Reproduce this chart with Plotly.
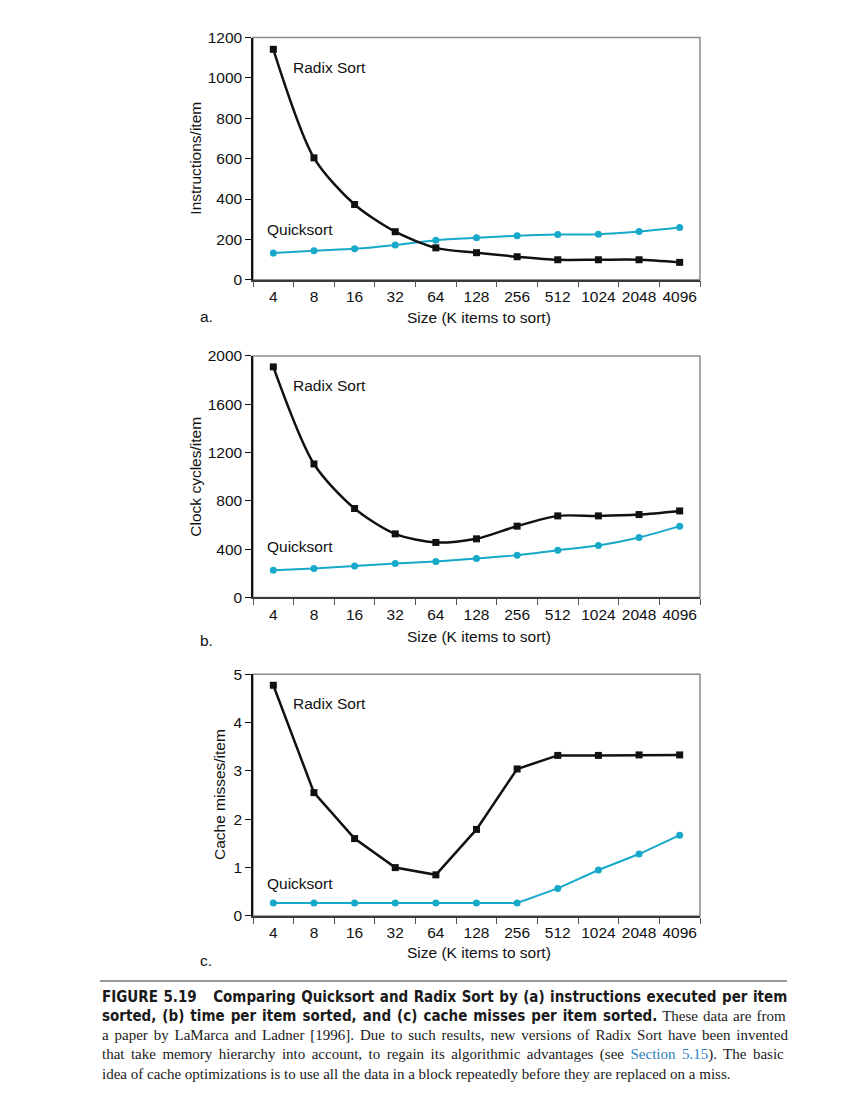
import plotly.graph_objects as go

# ---------------- data ----------------
sizes = ["4", "8", "16", "32", "64", "128", "256", "512", "1024", "2048", "4096"]

radix_instr = [1142, 604, 373, 238, 158, 134, 114, 99, 99, 99, 86]
quick_instr = [132, 144, 153, 172, 196, 208, 218, 224, 226, 239, 259]

radix_cycles = [1909, 1105, 736, 526, 455, 485, 590, 675, 675, 686, 716]
quick_cycles = [225, 240, 259, 281, 298, 322, 350, 391, 430, 496, 590]

radix_miss = [4.77, 2.55, 1.60, 1.00, 0.85, 1.79, 3.04, 3.32, 3.32, 3.33, 3.33]
quick_miss = [0.27, 0.27, 0.27, 0.27, 0.27, 0.27, 0.27, 0.57, 0.95, 1.28, 1.67]

y_titles = ["Instructions/item", "Clock cycles/item", "Cache misses/item"]
panel_letters = ["a.", "b.", "c."]
x_title = "Size (K items to sort)"
series_names = ["Radix Sort", "Quicksort"]

caption_lines = [
    "<b>FIGURE 5.19&#160;&#160;&#160;Comparing Quicksort and Radix Sort by (a) instructions executed per item</b>",
    "<b>sorted, (b) time per item sorted, and (c) cache misses per item sorted.</b> These data are from",
    "a paper by LaMarca and Ladner [1996]. Due to such results, new versions of Radix Sort have been invented",
    "that take memory hierarchy into account, to regain its algorithmic advantages (see "
    "<span style=\"fill:#2f7fbf\">Section 5.15</span>). The basic",
    "idea of cache optimizations is to use all the data in a block repeatedly before they are replaced on a miss.",
]
caption_word_spacing = [0.8, 1.3, 2.1, 2.7, 0]

# ---------------- layout helpers ----------------
W, H = 844, 1120
SANS = "Liberation Sans, Arial, Helvetica, sans-serif"
SERIF = "Liberation Serif, Times New Roman, serif"
BOLD = "Liberation Sans Narrow, DejaVu Sans Condensed, Arial Narrow, Liberation Sans, sans-serif"
FS = 15.5
CYAN = "#17a9c9"

# the photographed page is slightly compressed vertically; compensate
V_SCALE, V_OFF = 0.984, 8.8


def px(x):
    return x / W


def py(y):
    return 1 - ((y - V_OFF) / V_SCALE) / H


x_left, x_right = 253, 700
panels = [
    dict(top=37.4, bottom=279.3, ymax=1200, dtick=200,
         radix=radix_instr, quick=quick_instr, shape="spline",
         ytitle_x=196, xtitle_y=317, letter_y=316.5, radix_y=67.5, quick_y=229.5),
    dict(top=355.4, bottom=596.7, ymax=2000, dtick=400,
         radix=radix_cycles, quick=quick_cycles, shape="spline",
         ytitle_x=196, xtitle_y=635.5, letter_y=639.5, radix_y=384.5, quick_y=546),
    dict(top=673.4, bottom=915, ymax=5, dtick=1,
         radix=radix_miss, quick=quick_miss, shape="linear",
         ytitle_x=219, xtitle_y=952, letter_y=960, radix_y=702.5, quick_y=882.5),
]

fig = go.Figure()
annotations = []
shapes = []
layout = {}

for i, p in enumerate(panels):
    n = "" if i == 0 else str(i + 1)
    xa, ya = "x" + n, "y" + n
    fig.add_trace(go.Scatter(
        x=sizes, y=p["quick"], xaxis=xa, yaxis=ya, mode="lines+markers",
        line=dict(color=CYAN, width=2, shape=p["shape"], smoothing=0.8),
        marker=dict(symbol="circle", size=7, color=CYAN),
        name=series_names[1], showlegend=False, cliponaxis=False))
    fig.add_trace(go.Scatter(
        x=sizes, y=p["radix"], xaxis=xa, yaxis=ya, mode="lines+markers",
        line=dict(color="#111111", width=2.5, shape=p["shape"], smoothing=0.8),
        marker=dict(symbol="square", size=7, color="#111111"),
        name=series_names[0], showlegend=False, cliponaxis=False))

    layout["xaxis" + n] = dict(
        domain=[px(x_left), px(x_right)], anchor=ya, type="category",
        categoryorder="array", categoryarray=sizes, range=[-0.5, 10.5],
        tickson="boundaries", ticks="outside", ticklen=6, tickwidth=1.2,
        tickangle=0, ticklabelstandoff=2,
        tickcolor="#555555", showline=True, linecolor="#3a3a3a", linewidth=1.5,
        showgrid=False, zeroline=False,
        tickfont=dict(family=SANS, size=FS, color="#111111"))
    layout["yaxis" + n] = dict(
        domain=[py(p["bottom"]), py(p["top"])], anchor=xa,
        range=[0, p["ymax"]], dtick=p["dtick"], tick0=0,
        ticks="outside", ticklen=6, tickwidth=1.2, tickcolor="#111111",
        showline=True, linecolor="#111111", linewidth=1.5,
        showgrid=False, zeroline=False,
        tickfont=dict(family=SANS, size=FS, color="#111111"))

    # gray frame (top/right)
    shapes.append(dict(type="rect", xref=xa + " domain", yref=ya + " domain",
                       x0=0, x1=1, y0=0, y1=1, layer="below",
                       line=dict(color="#8c8c8c", width=1.5)))

    mid = (p["top"] + p["bottom"]) / 2
    annotations += [
        dict(text=y_titles[i], x=px(p["ytitle_x"]), y=py(mid), xref="paper", yref="paper",
             textangle=-90, showarrow=False, xanchor="center", yanchor="middle",
             font=dict(family=SANS, size=FS, color="#111111")),
        dict(text=x_title, x=px((x_left + x_right) / 2 + 2), y=py(p["xtitle_y"]),
             xref="paper", yref="paper", showarrow=False,
             xanchor="center", yanchor="middle",
             font=dict(family=SANS, size=FS, color="#111111")),
        dict(text=panel_letters[i], x=px(198), y=py(p["letter_y"]),
             xref="paper", yref="paper", showarrow=False,
             xanchor="left", yanchor="middle",
             font=dict(family=SANS, size=FS, color="#111111")),
        dict(text=series_names[0], x=px(291), y=py(p["radix_y"]),
             xref="paper", yref="paper", showarrow=False,
             xanchor="left", yanchor="middle",
             font=dict(family=SANS, size=FS, color="#111111")),
        dict(text=series_names[1], x=px(265), y=py(p["quick_y"]),
             xref="paper", yref="paper", showarrow=False,
             xanchor="left", yanchor="middle",
             font=dict(family=SANS, size=FS, color="#111111")),
    ]

# caption rule
shapes.append(dict(type="line", xref="paper", yref="paper",
                   x0=px(100), x1=px(787), y0=py(980), y1=py(980),
                   line=dict(color="#333333", width=1.2)))

caption_y = [995.8, 1015, 1034.2, 1053.5, 1072.8]
for j, line in enumerate(caption_lines):
    txt = line.replace("<b>", "<span style=\"font-family:%s;font-weight:900\">" % BOLD) \
              .replace("</b>", "</span>")
    if caption_word_spacing[j]:
        txt = "<span style=\"word-spacing:%.1fpx\">%s</span>" % (caption_word_spacing[j], txt)
    annotations.append(dict(
        text=txt, x=px(100), y=py(caption_y[j]), xref="paper", yref="paper",
        showarrow=False, xanchor="left", yanchor="middle", align="left",
        font=dict(family=SERIF, size=15, color="#1a1a1a")))

fig.update_layout(
    width=W, height=H, margin=dict(l=0, r=0, t=0, b=0),
    paper_bgcolor="white", plot_bgcolor="white",
    annotations=annotations, shapes=shapes, showlegend=False,
    **layout)

fig.write_html(
    "out.html",
    config={"displayModeBar": False},
    post_script=(
        "document.body.style.margin='0';"
        "document.documentElement.style.overflow='hidden';"
        "var d=document.getElementById('{plot_id}');"
        "d.style.position='fixed';d.style.top='0px';d.style.left='0px';"
    ))
